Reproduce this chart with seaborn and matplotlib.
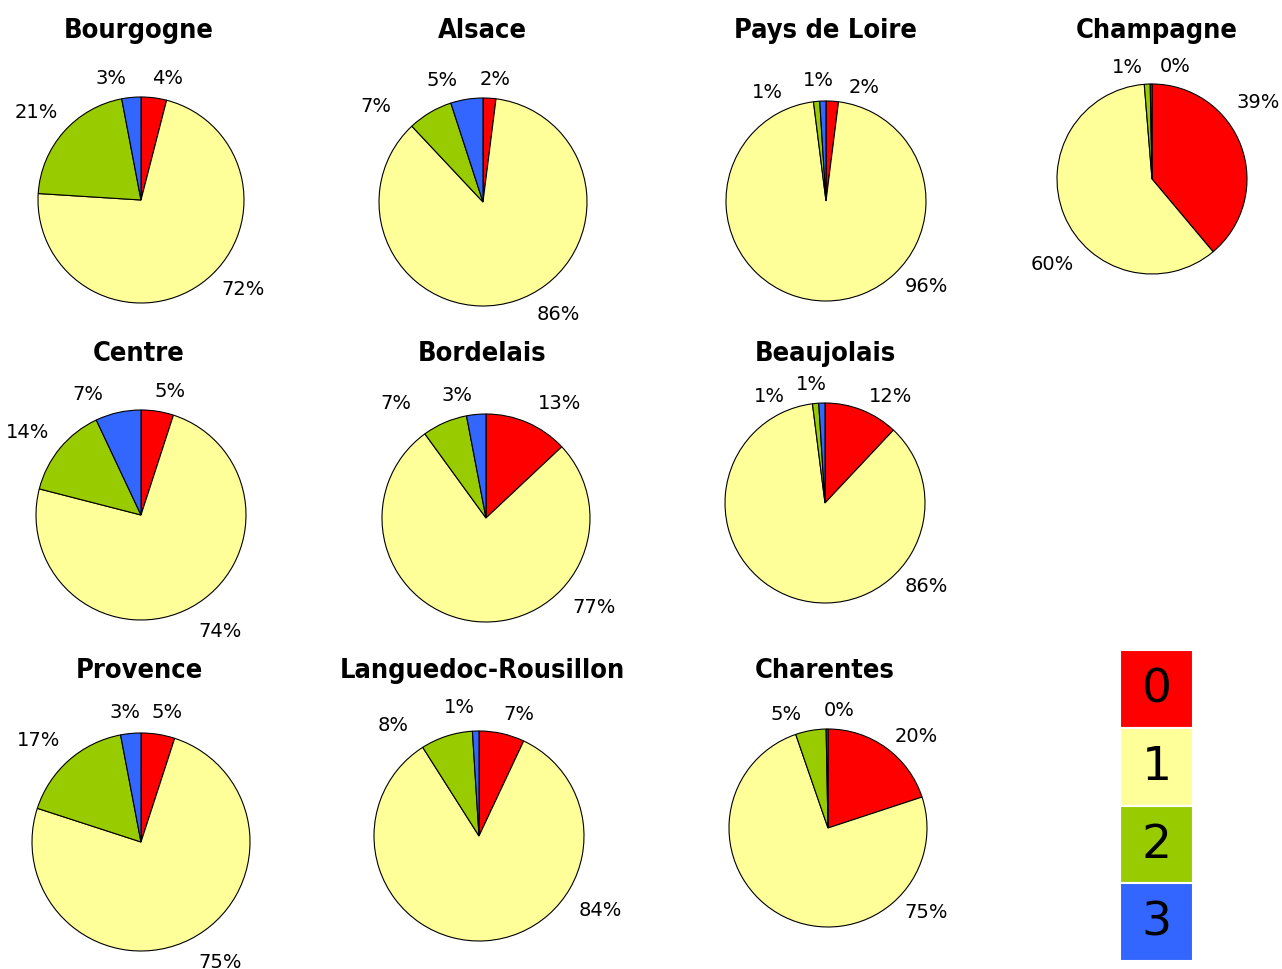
import matplotlib
matplotlib.use("Agg")
import matplotlib.pyplot as plt
import seaborn as sns

# Données : part de chaque classe (0, 1, 2, 3) par région
regions = ["Bourgogne", "Alsace", "Pays de Loire", "Champagne",
           "Centre", "Bordelais", "Beaujolais",
           "Provence", "Languedoc-Rousillon", "Charentes"]
classe_0 = [4, 2, 2, 39, 5, 13, 12, 5, 7, 20]
classe_1 = [72, 86, 96, 60, 74, 77, 86, 75, 84, 75]
classe_2 = [21, 7, 1, 1, 14, 7, 1, 17, 8, 5]
classe_3 = [3, 5, 1, 0.3, 7, 3, 1, 3, 1, 0.3]
classes = ["0", "1", "2", "3"]

couleurs = ["#ff0000", "#ffff99", "#99cc00", "#3366ff"]

sns.set_style("white")
plt.rcParams["font.family"] = ["DejaVu Sans"]
plt.rcParams["text.color"] = "black"
titre_font = ["DejaVu Sans"]

W, H = 1282, 970
fig = plt.figure(figsize=(W / 100, H / 100), dpi=100)

# mise en page : centre (px), rayon (px) de chaque camembert
centres = [(141, 201, 103), (483, 203, 104), (826, 202, 100), (1152, 180, 95),
           (141, 516, 105), (486, 519, 104), (825, 504, 100),
           (141, 843, 109), (479, 837, 105), (828, 829, 99)]
titres_xy = [(139, 31), (482, 31), (825, 31), (1157, 31),
             (139, 354), (482, 354), (825, 354),
             (139, 671), (482, 671), (825, 671)]
# position des étiquettes (en rayons), ordre des classes 0..3
etiq_pos = [
    [(0.26, 1.19), (0.99, -0.86), (-1.02, 0.86), (-0.29, 1.19)],
    [(0.12, 1.19), (0.72, -1.07), (-1.03, 0.93), (-0.39, 1.18)],
    [(0.38, 1.15), (1.00, -0.84), (-0.59, 1.10), (-0.08, 1.22)],
    [(1.12, 0.82), (-1.05, -0.89), (-0.26, 1.18), (0.24, 1.20)],
    [(0.28, 1.19), (0.75, -1.10), (-1.08, 0.80), (-0.51, 1.16)],
    [(0.71, 1.11), (1.04, -0.85), (-0.87, 1.11), (-0.28, 1.19)],
    [(0.66, 1.07), (1.01, -0.82), (-0.56, 1.08), (-0.14, 1.20)],
    [(0.24, 1.20), (0.73, -1.10), (-0.94, 0.94), (-0.15, 1.20)],
    [(0.38, 1.17), (1.16, -0.70), (-0.82, 1.06), (-0.19, 1.23)],
    [(0.89, 0.93), (0.99, -0.84), (-0.42, 1.16), (0.11, 1.20)],
]

K = 1.6
for i, reg in enumerate(regions):
    cx, cy, r = centres[i]
    R = K * r
    ax = fig.add_axes([(cx - R) / W, 1 - (cy + R) / H, 2 * R / W, 2 * R / H])
    vals = [classe_0[i], classe_1[i], classe_2[i], classe_3[i]]
    wedges, txts, pcts = ax.pie(
        vals, colors=couleurs, startangle=90, counterclock=False,
        autopct=lambda p: "%.0f%%" % p, pctdistance=1.2,
        wedgeprops=dict(edgecolor="black", linewidth=0.8),
        textprops=dict(fontsize=14, color="black"))
    for t, pos in zip(pcts, etiq_pos[i]):
        t.set_position(pos)
        t.set_ha("center")
        t.set_va("center")
    ax.set_xlim(-K, K)
    ax.set_ylim(-K, K)
    ax.set_aspect("equal")
    ax.axis("off")
    tx, ty = titres_xy[i]
    fig.text(tx / W, 1 - ty / H, reg, ha="center", va="center",
             fontsize=19.5, fontweight="bold", family=titre_font,
             fontstretch="condensed", color="black")

# légende en blocs colorés
axl = fig.add_axes([1120 / W, 1 - 962 / H, 73 / W, 311 / H])
for j, c in enumerate(classes):
    axl.bar(0, 1, bottom=3 - j, width=1, color=couleurs[j], edgecolor="white", linewidth=1.5)
    axl.text(0, 3 - j + 0.5, c, ha="center", va="center", fontsize=34, color="black")
axl.set_xlim(-0.5, 0.5)
axl.set_ylim(0, 4)
axl.axis("off")

fig.savefig("out.png", dpi=100)
